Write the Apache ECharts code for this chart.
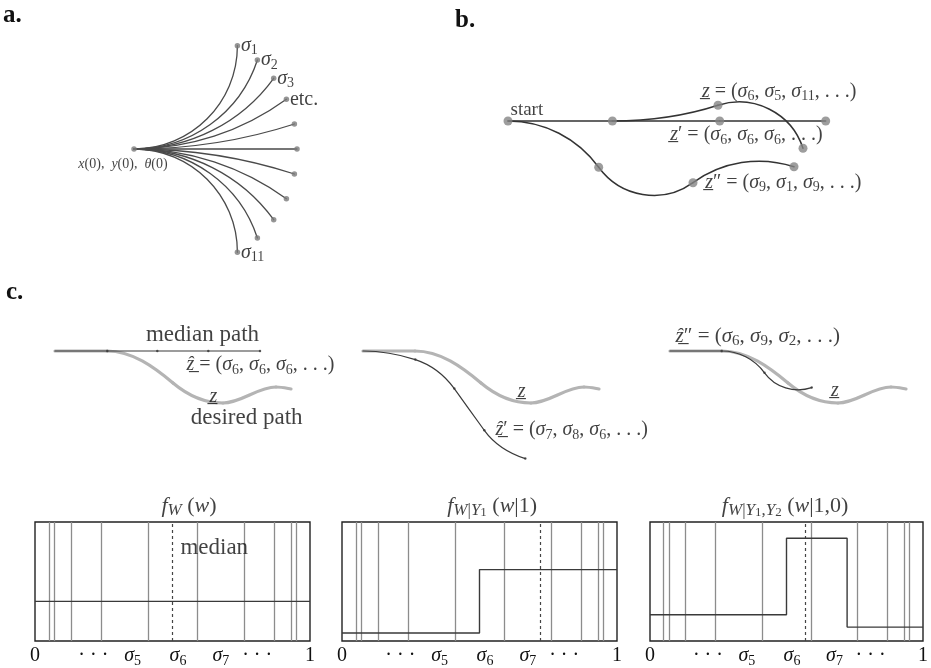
<!DOCTYPE html>
<html><head><meta charset="utf-8">
<script src="https://cdn.jsdelivr.net/npm/echarts@6/dist/echarts.min.js"></script>
<style>html,body{margin:0;padding:0;background:#fff}#c{width:931px;height:668px}</style>
</head><body><div id="c"></div>
<script>
// ================= DATA =================
// panel a: motion primitives sigma_1..sigma_11 : end point (dx, dy) and end heading (deg)
const primEndX = [103.4, 123.4, 139.7, 152.4, 160.4, 163, 160.4, 152.4, 139.7, 123.4, 103.4];
const primEndY = [103.3, 89, 70.7, 49.7, 25, 0, -25, -49.7, -70.7, -89, -103.3];
const primEndHeading = [90, 72, 54, 36, 18, 0, -18, -36, -54, -72, -90];
const primLabels = ['σ_1', 'σ_2', 'σ_3', 'etc.', '', '', '', '', '', '', 'σ_{11}'];

// panel b: paths as waypoints [x, y, heading deg]
const pathZ   = [[104.4, 0, 0], [210, 15.7, 18], [295, -27.3, -72]];
const pathZp  = [[0, 0, 0], [104.4, 0, 0], [211.7, 0, 0], [317.7, 0, 0]];
const pathZpp = [[0, 0, 0], [90.7, -46.3, -54], [185, -61.7, 36], [286, -45.7, -18]];

// panel c: desired path and estimated paths
const desiredPath = [[0, 0, 0], [52, 0, 0], [118, -32, -40], [168, -52, 0], [221, -36, 0], [236, -38, -10]];
const medianPath  = [[0, 0, 0], [52.3, 0, 0], [102.3, 0, 0], [153.3, 0, 0], [205, 0, 0]];
const estPath1    = [[0, 0, 0], [52.3, -8.6, -18], [91.3, -37.6, -54], [121.3, -79.3, -54], [162.3, -107.6, -18]];
const estPath2    = [[0, 0, 0], [51.7, 0, 0], [94.5, -21.8, -54], [141.7, -36.6, 18]];

// histograms
const binEdges = [0.049, 0.075, 0.134, 0.245, 0.408, 0.592, 0.755, 0.866, 0.925, 0.951];
const density1Edges = [0, 1];            const density1 = [1];
const density2Edges = [0, 0.5, 1];       const density2 = [0.2, 1.8];
const density3Edges = [0, 0.5, 0.722, 1]; const density3 = [0.66, 2.59, 0.35];
const medians = [0.5, 0.722, 0.566];
const tickValues = [0, 0.212, 0.355, 0.52, 0.676, 0.808, 1];
const tickLabels = ['0', '· · ·', 'σ_5', 'σ_6', 'σ_7', '· · ·', '1'];
const histTitles = ['f_W (w)', 'f_{W|Y_1} (w|1)', 'f_{W|Y_1,Y_2} (w|1,0)'];

// ================= RENDERING =================
const FONT = '"Liberation Serif","DejaVu Serif",serif';
const U = '\u0332', HAT = '\u0302';

function richFor(S, color, subScale) {
  color = color || '#111';
  subScale = subScale || 0.7;
  const b = { fontFamily: FONT, color: color };
  const mk = (lv, it) => {
    const fs = lv === 0 ? S : lv === 1 ? Math.round(S * subScale) : Math.round(S * 0.58);
    const lh = lv === 0 ? Math.round(S * 1.2) : lv === 1 ? Math.round(S * 0.6) : Math.round(S * 0.3);
    const o = Object.assign({}, b, { fontSize: fs, lineHeight: lh, fontStyle: it ? 'italic' : 'normal' });
    if (lv > 0) o.verticalAlign = 'bottom';
    return o;
  };
  return { r0: mk(0, 0), i0: mk(0, 1), r1: mk(1, 0), i1: mk(1, 1), r2: mk(2, 0), i2: mk(2, 1) };
}
function tex(s) {
  const toks = []; let i = 0;
  const itRe = /[A-Za-zσθ]/;
  function push(ch, lv) {
    if (/[\u0300-\u036f]/.test(ch) && toks.length) { toks[toks.length - 1].t += ch; return; }
    const st = (itRe.test(ch) ? 'i' : 'r') + lv;
    const last = toks[toks.length - 1];
    if (last && last.st === st) last.t += ch; else toks.push({ st: st, t: ch });
  }
  function parse(lv, inBrace) {
    while (i < s.length) {
      const ch = s[i];
      if (ch === '}' && inBrace) { i++; return; }
      if (ch === '_') {
        i++;
        const nl = Math.min(lv + 1, 2);
        if (s[i] === '{') { i++; parse(nl, true); } else { push(s[i], nl); i++; }
        continue;
      }
      push(ch, lv); i++;
    }
  }
  parse(0, false);
  return toks.map(t => '{' + t.st + '|' + t.t + '}').join('');
}
function plain(s) { return '{r0|' + s + '}'; }

const grids = [], xAxes = [], yAxes = [], series = [];
function addGrid(g, xr, yr, box) {
  grids.push(Object.assign({ show: !!box, borderColor: '#222', borderWidth: 1.4, backgroundColor: 'transparent' }, g));
  const idx = grids.length - 1;
  xAxes.push({ type: 'value', gridIndex: idx, min: xr[0], max: xr[1], show: false });
  yAxes.push({ type: 'value', gridIndex: idx, min: yr[0], max: yr[1], show: false });
  return idx;
}
function segs(path) {
  const out = [];
  for (let k = 0; k < path.length - 1; k++) out.push(path[k].concat(path[k + 1]));
  return out;
}
function pathSeries(g, data, color, width, z) {
  return {
    type: 'custom', coordinateSystem: 'cartesian2d', xAxisIndex: g, yAxisIndex: g,
    data: data, encode: { x: [0, 3], y: [1, 4] }, silent: true, z: z || 2,
    renderItem: function (params, api) {
      const p0 = api.coord([api.value(0), api.value(1)]);
      const p1 = api.coord([api.value(3), api.value(4)]);
      const h0 = api.value(2) * Math.PI / 180, h1 = api.value(5) * Math.PI / 180;
      const chord = Math.hypot(p1[0] - p0[0], p1[1] - p0[1]);
      const d = h1 - h0;
      const k = Math.abs(d) < 1e-6 ? 1 / 3 : (4 / 3) * Math.tan(d / 4) / (2 * Math.sin(d / 2));
      const hl = chord * k;
      return {
        type: 'bezierCurve',
        shape: {
          x1: p0[0], y1: p0[1], x2: p1[0], y2: p1[1],
          cpx1: p0[0] + hl * Math.cos(h0), cpy1: p0[1] - hl * Math.sin(h0),
          cpx2: p1[0] - hl * Math.cos(h1), cpy2: p1[1] + hl * Math.sin(h1)
        },
        style: { fill: 'none', stroke: color, lineWidth: width, lineCap: 'round' }
      };
    }
  };
}
function dotSeries(g, pts, size, color) {
  return { type: 'scatter', xAxisIndex: g, yAxisIndex: g, data: pts.map(p => [p[0], p[1]]),
    symbolSize: size, itemStyle: { color: color }, silent: true, z: 4 };
}
function L(x, y, txt, S, align, extra, subScale) {
  return { value: [x, y], txt: txt,
    label: Object.assign({ position: align === 'left' ? 'right' : 'inside', distance: 0, rich: richFor(S, null, subScale) }, extra || {}) };
}
function labelSeries(g, items) {
  return { type: 'scatter', xAxisIndex: g, yAxisIndex: g, data: items, symbolSize: 1, clip: false,
    itemStyle: { color: 'rgba(0,0,0,0)' }, label: { show: true, formatter: p => p.data.txt },
    silent: true, z: 10 };
}

// ---- panel a ----
const gA = addGrid({ left: 64, top: 44, width: 240, height: 210 }, [-70, 170], [-105, 105]);
const primSegs = primEndX.map((x, k) => [0, 0, 0, x, primEndY[k], primEndHeading[k]]);
series.push(pathSeries(gA, primSegs, '#4a4a4a', 1.3));
series.push(dotSeries(gA, [[0, 0]].concat(primEndX.map((x, k) => [x, primEndY[k]])), 5.5, '#7a7a7a'));
series.push(labelSeries(gA, primLabels.map((t, k) => t ? L(primEndX[k], primEndY[k], /σ/.test(t) ? tex(t) : plain(t), 20, 'left', { distance: 3 }) : null).filter(Boolean)
  .concat([L(-11, -15, tex('x(0),  y(0),  θ(0)'), 14, 'center')])));

// ---- panel b ----
const gB = addGrid({ left: 508, top: 80, width: 360, height: 130 }, [0, 360], [-89, 41]);
series.push(pathSeries(gB, segs(pathZp), '#333', 1.5));
series.push(pathSeries(gB, segs(pathZ), '#333', 1.5));
series.push(pathSeries(gB, segs(pathZpp), '#333', 1.5));
series.push(dotSeries(gB, pathZp.concat(pathZ.slice(1), pathZpp.slice(1)), 9, '#858585'));
series.push(labelSeries(gB, [
  L(2, 11, plain('start'), 19, 'left'),
  L(193.4, 29.3, tex('z' + U + ' = (σ_6, σ_5, σ_{11}, . . .)'), 20, 'left'),
  L(161.7, -14, tex('z' + U + '′ = (σ_6, σ_6, σ_6, . . .)'), 20, 'left'),
  L(196.7, -61.7, tex('z' + U + '″ = (σ_9, σ_1, σ_9, . . .)'), 20, 'left')
]));

// ---- panel c (paths) ----
const cLefts = [55, 363, 670];
const gC = cLefts.map(l => addGrid({ left: l, top: 300, width: 260, height: 170 }, [0, 260], [-119, 51]));
const estPaths = [medianPath, estPath1, estPath2];
gC.forEach((g, k) => {
  series.push(pathSeries(g, segs(desiredPath), '#b4b4b4', 3.2, 2));
  series.push(pathSeries(g, segs(estPaths[k]), '#3a3a3a', 1.2, 3));
  series.push(dotSeries(g, estPaths[k].slice(1), 2.5, '#3a3a3a'));
});
series.push(labelSeries(gC[0], [
  L(147.5, 16, plain('median path'), 23, 'center'),
  L(131, -14, tex('z' + HAT + U + ' = (σ_6, σ_6, σ_6, . . .)'), 20, 'left'),
  L(158.3, -46, tex('z' + U), 20, 'center'),
  L(191.7, -67.3, plain('desired path'), 23, 'center')
]));
series.push(labelSeries(gC[1], [
  L(158.7, -40.7, tex('z' + U), 20, 'center'),
  L(132, -79, tex('z' + HAT + U + '′ = (σ_7, σ_8, σ_6, . . .)'), 20, 'left')
]));
series.push(labelSeries(gC[2], [
  L(5, 15, tex('z' + HAT + U + '″ = (σ_6, σ_9, σ_2, . . .)'), 21, 'left'),
  L(165, -40, tex('z' + U), 20, 'center')
]));

// ---- histograms ----
const hLefts = [35, 342, 650];
const dens = [[density1Edges, density1], [density2Edges, density2], [density3Edges, density3]];
const titleX = [0.56, 0.546, 0.495];
hLefts.forEach((l, k) => {
  const g = addGrid({ left: l, top: 522, width: 275, height: 121 }, [0, 1], [0, 3], true);
  Object.assign(xAxes[g], {
    show: true,
    axisLine: { show: false }, axisTick: { show: false }, splitLine: { show: false },
    axisLabel: {
      customValues: tickValues, showMinLabel: true, showMaxLabel: true, hideOverlap: false,
      margin: 3, rich: richFor(20),
      formatter: function (v) {
        let best = 0;
        tickValues.forEach((t, j) => { if (Math.abs(t - v) < Math.abs(tickValues[best] - v)) best = j; });
        const s = tickLabels[best];
        return /σ/.test(s) ? tex(s) : plain(s);
      }
    }
  });
  const e = dens[k][0], h = dens[k][1], pts = [];
  h.forEach((v, j) => { pts.push([e[j], v]); pts.push([e[j + 1], v]); });
  series.push({
    type: 'line', xAxisIndex: g, yAxisIndex: g, data: pts, symbol: 'none', silent: true, z: 4,
    lineStyle: { color: '#3a3a3a', width: 1.4 },
    markLine: {
      silent: true, symbol: ['none', 'none'], label: { show: false }, z: 2,
      lineStyle: { color: '#8c8c8c', width: 1.3, type: 'solid' },
      data: binEdges.map(x => ({ xAxis: x })).concat([{ xAxis: medians[k], lineStyle: { color: '#444', width: 1.2, type: [3, 3] } }])
    }
  });
  const labs = [L(titleX[k], 3.41, tex(histTitles[k]), 22, 'center', null, 0.76)];
  if (k === 0) labs.push(L(0.527, 2.34, plain('median'), 23, 'left'));
  series.push(labelSeries(g, labs));
});

const titleStyle = { fontFamily: FONT, fontWeight: 'bold', fontSize: 25, color: '#111' };
const chart = echarts.init(document.getElementById('c'));
chart.setOption({
  animation: false,
  backgroundColor: '#fff',
  title: [
    { text: 'a.', left: 3, top: 3, padding: 0, textStyle: titleStyle },
    { text: 'b.', left: 455, top: 8, padding: 0, textStyle: titleStyle },
    { text: 'c.', left: 6, top: 280, padding: 0, textStyle: titleStyle }
  ],
  grid: grids, xAxis: xAxes, yAxis: yAxes, series: series
});
</script></body></html>
